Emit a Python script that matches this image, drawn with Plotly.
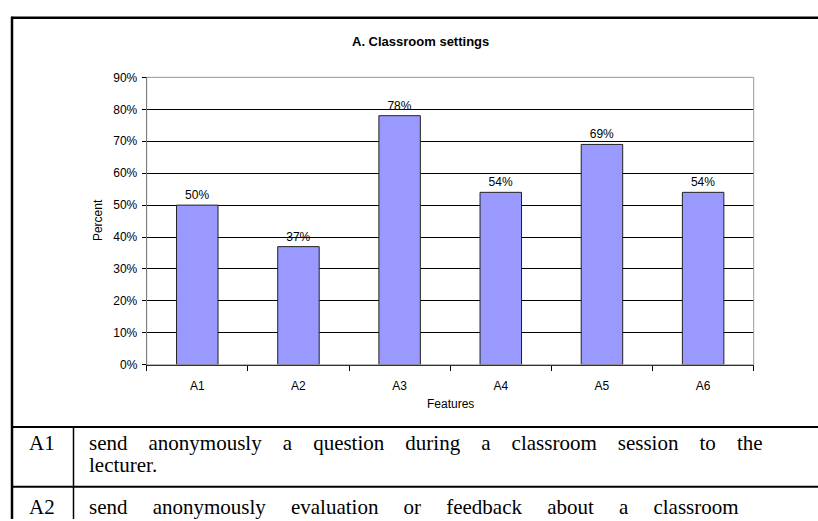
import plotly.graph_objects as go

# Survey results for the classroom-settings features
features = ["A1", "A2", "A3", "A4", "A5", "A6"]
percent = [0.50, 0.37, 0.78, 0.54, 0.69, 0.54]

# Feature descriptions shown in the table under the chart
codes = ["A1", "A2"]
desc_lines = [
    ["send anonymously a question during a classroom session to the", "lecturer."],
    ["send anonymously evaluation or feedback about a classroom"],
]
# extra word spacing (px) for each line, so wrapped lines are justified
desc_spacing = [
    [15.8, 0],
    [19.9],
]

W, H = 818, 521


def px(x):
    return x / W


def py(y):
    return 1 - y / H


plot_l, plot_r, plot_t, plot_b = 146.7, 753.7, 72.3, 367.7
SANS = "Liberation Sans, Arial"
SERIF = "Liberation Serif, Times New Roman"

fig = go.Figure()
fig.add_trace(go.Bar(
    x=features,
    y=percent,
    marker=dict(color="#9999FF", line=dict(color="#222222", width=1)),
    width=0.41,
    texttemplate="%{y:.0%}",
    textposition="outside",
    textfont=dict(family=SANS, size=12, color="black"),
    cliponaxis=False,
))

shapes = [
    # plot-area frame (grey)
    dict(type="rect", xref="paper", yref="paper",
         x0=px(plot_l), x1=px(plot_r), y0=py(plot_b), y1=py(plot_t),
         line=dict(color="#999999", width=1), fillcolor="rgba(0,0,0,0)", layer="above"),
    # outer frame and table rules
    dict(type="line", xref="paper", yref="paper", x0=px(11), x1=1.01, y0=py(11), y1=py(11),
         line=dict(color="black", width=2.5)),
    dict(type="line", xref="paper", yref="paper", x0=px(12), x1=px(12), y0=py(10), y1=-0.01,
         line=dict(color="black", width=2.5)),
    dict(type="line", xref="paper", yref="paper", x0=px(11), x1=1.01, y0=py(431.5), y1=py(431.5),
         line=dict(color="black", width=2)),
    dict(type="line", xref="paper", yref="paper", x0=px(11), x1=1.01, y0=py(493), y1=py(493),
         line=dict(color="black", width=2)),
    dict(type="line", xref="paper", yref="paper", x0=px(73.5), x1=px(73.5), y0=py(431.5), y1=-0.01,
         line=dict(color="black", width=1.5)),
]

annotations = [
    dict(text="<b>A. Classroom settings</b>", x=px(420), y=py(35), xref="paper", yref="paper",
         showarrow=False, xanchor="center", yanchor="middle",
         font=dict(family=SANS, size=13, color="black")),
    dict(text="Percent", x=px(98), y=py(219), xref="paper", yref="paper", textangle=-90,
         showarrow=False, xanchor="center", yanchor="middle",
         font=dict(family=SANS, size=12, color="black")),
    dict(text="Features", x=px(450), y=py(408), xref="paper", yref="paper",
         showarrow=False, xanchor="center", yanchor="middle",
         font=dict(family=SANS, size=12, color="black")),
]

row_tops = [431.5, 493]
row_pad = [16.5, 21]
line_h = 23
for code, lines, gaps, top, pad in zip(codes, desc_lines, desc_spacing, row_tops, row_pad):
    first_mid = top + pad
    annotations.append(dict(
        text=code, x=px(42), y=py(first_mid), xref="paper", yref="paper",
        showarrow=False, xanchor="center", yanchor="middle",
        font=dict(family=SERIF, size=21, color="black")))
    for i, (line, gap) in enumerate(zip(lines, gaps)):
        annotations.append(dict(
            text=f'<span style="word-spacing:{gap}px">{line}</span>',
            x=px(87), y=py(first_mid + line_h * i), xref="paper", yref="paper",
            showarrow=False, xanchor="left", yanchor="middle",
            font=dict(family=SERIF, size=21, color="black")))

fig.update_layout(
    width=W, height=H,
    margin=dict(l=0, r=0, t=0, b=0),
    paper_bgcolor="white",
    plot_bgcolor="white",
    showlegend=False,
    shapes=shapes,
    annotations=annotations,
    xaxis=dict(
        domain=[px(plot_l), px(plot_r)],
        type="category",
        tickson="boundaries",
        ticks="outside", ticklen=5, tickcolor="black", tickwidth=1,
        ticklabelstandoff=10,
        showline=True, linecolor="black", linewidth=1,
        showgrid=False,
        tickfont=dict(family=SANS, size=12, color="black"),
    ),
    yaxis=dict(
        domain=[py(plot_b), py(plot_t)],
        range=[0, 0.9],
        tick0=0, dtick=0.1,
        tickformat=".0%",
        ticks="outside", ticklen=4, tickcolor="black", tickwidth=1,
        ticklabelstandoff=2,
        showline=True, linecolor="black", linewidth=1,
        showgrid=True, gridcolor="black", gridwidth=1,
        zeroline=False,
        tickfont=dict(family=SANS, size=12, color="black"),
    ),
    bargap=0.59,
)

fig.write_html("out.html")
